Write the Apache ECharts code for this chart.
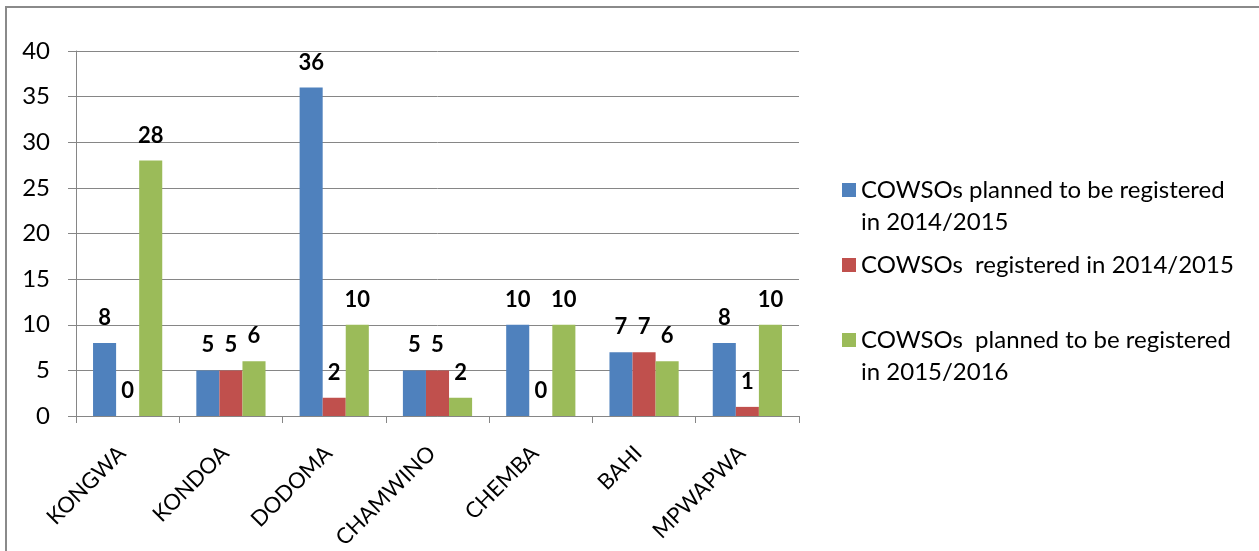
<!DOCTYPE html>
<html><head><meta charset="utf-8">
<script src="https://cdn.jsdelivr.net/npm/echarts@6/dist/echarts.min.js"></script>
<style>html,body{margin:0;padding:0;background:#fff}#c{width:1259px;height:551px}</style>
</head><body><div id="c"></div>
<script>
const categories = ['KONGWA', 'KONDOA', 'DODOMA', 'CHAMWINO', 'CHEMBA', 'BAHI', 'MPWAPWA'];
const planned1415 = [8, 5, 36, 5, 10, 7, 8];
const registered1415 = [0, 5, 2, 5, 0, 7, 1];
const planned1516 = [28, 6, 10, 2, 10, 6, 10];
const seriesNames = [
  'COWSOs planned to be registered in 2014/2015',
  'COWSOs  registered in 2014/2015',
  'COWSOs  planned to be registered in 2015/2016'
];
// a leading blank line keeps the swatch level with the first text line
const legendText = [
  ' \nCOWSOs planned to be registered\nin 2014/2015',
  'COWSOs  registered in 2014/2015',
  ' \nCOWSOs  planned to be registered\nin 2015/2016'
];
const yMin = 0, yMax = 40, yStep = 5;

const FONT = 'Lato';
const GRAY = '#868686';
const colors = ['#4F81BD', '#C0504D', '#9BBB59'];
const seriesData = [planned1415, registered1415, planned1516];

const chart = echarts.init(document.getElementById('c'));

function mkLegend(i, top) {
  return {
    show: true,
    orient: 'vertical',
    left: 842,
    top: top,
    padding: 0,
    itemWidth: 14,
    itemHeight: 14,
    itemGap: 0,
    icon: 'rect',
    data: [seriesNames[i]],
    formatter: function () { return legendText[i]; },
    selectedMode: false,
    textStyle: { fontFamily: FONT, fontSize: 24, color: '#000', lineHeight: 32 },
    itemStyle: { borderWidth: 0 }
  };
}

chart.setOption({
  animation: false,
  backgroundColor: '#fff',
  color: colors,
  textStyle: { fontFamily: FONT },
  graphic: [{
    type: 'rect',
    z: -10,
    shape: { x: 6, y: 7, width: 1300, height: 600 },
    style: { fill: 'none', stroke: '#8a8a8a', lineWidth: 2 }
  }],
  grid: { left: 76, right: 460, top: 51, bottom: 135, containLabel: false, outerBoundsMode: 'none' },
  legend: [
    mkLegend(0, 142),
    mkLegend(1, 249),
    mkLegend(2, 292)
  ],
  xAxis: {
    type: 'category',
    data: categories,
    axisLine: { show: true, lineStyle: { color: GRAY, width: 1 } },
    axisTick: { show: true, length: 7, alignWithLabel: false, lineStyle: { color: GRAY } },
    axisLabel: {
      interval: 0, rotate: 45, margin: 28,
      formatter: function (v) { return '{c|' + v + '}'; },
      rich: { c: { fontFamily: FONT, fontSize: 22, color: '#000', padding: [0, 8, 0, 0] } },
      fontFamily: FONT, fontSize: 22, color: '#000'
    },
    splitLine: { show: false }
  },
  yAxis: {
    type: 'value',
    min: yMin, max: yMax, interval: yStep,
    axisLine: { show: true, lineStyle: { color: GRAY, width: 1 } },
    axisTick: { show: true, length: 8, lineStyle: { color: GRAY } },
    axisLabel: { margin: 26, fontFamily: FONT, fontSize: 24, color: '#000' },
    splitLine: { show: true, lineStyle: { color: GRAY, width: 1 } }
  },
  series: seriesData.map(function (d, i) {
    return {
      name: seriesNames[i],
      type: 'bar',
      data: d,
      barGap: '0%',
      barCategoryGap: '33%',
      itemStyle: { color: colors[i] },
      label: {
        show: true, position: 'top', distance: 14,
        fontFamily: FONT, fontWeight: 'bold', fontSize: 22, color: '#000'
      }
    };
  })
});
</script>
</body></html>
